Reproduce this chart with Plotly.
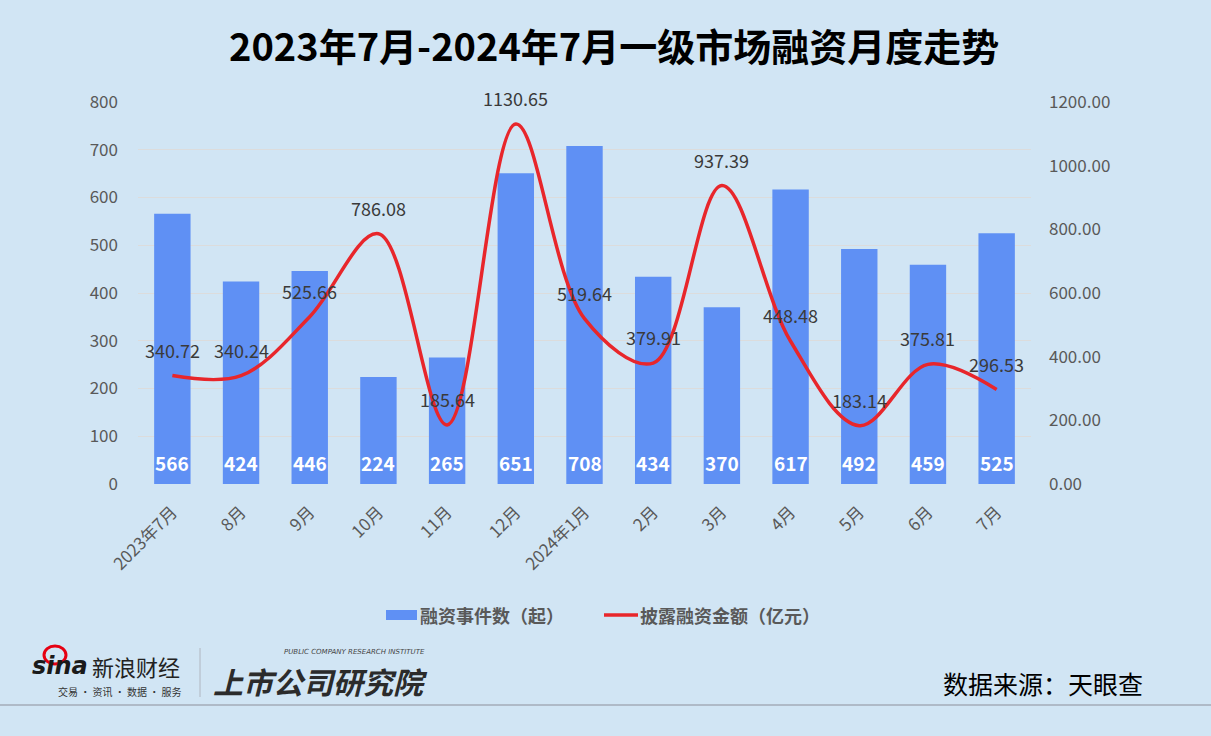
import plotly.graph_objects as go

# ---- data ----
months = ["2023年7月", "8月", "9月", "10月", "11月", "12月", "2024年1月",
          "2月", "3月", "4月", "5月", "6月", "7月"]
deal_counts = [566, 424, 446, 224, 265, 651, 708, 434, 370, 617, 492, 459, 525]
amounts = [340.72, 340.24, 525.66, 786.08, 185.64, 1130.65, 519.64,
           379.91, 937.39, 448.48, 183.14, 375.81, 296.53]
left_ticks = [0, 100, 200, 300, 400, 500, 600, 700, 800]
right_ticks = [0, 200, 400, 600, 800, 1000, 1200]
bar_name = "融资事件数（起）"
line_name = "披露融资金额（亿元）"

W, H = 1211, 736
L, R, T, B = 138, 1031, 102, 484
BG = "#d1e5f4"
FONT = "Noto Sans CJK SC, Noto Sans, sans-serif"
GRAY = "#595959"
BAR_COLOR = "#5f90f4"
LINE_COLOR = "#e8262b"


def px(x):
    return (x - L) / (R - L)


def py(y):
    return (B - y) / (B - T)


fig = go.Figure()
fig.add_trace(go.Bar(
    x=months, y=deal_counts, name=bar_name,
    marker=dict(color=BAR_COLOR, line=dict(width=0)),
    width=0.53, yaxis="y", hoverinfo="skip", showlegend=False,
))
fig.add_trace(go.Scatter(
    x=months, y=amounts, name=line_name, mode="lines",
    line=dict(color=LINE_COLOR, width=3.5, shape="spline", smoothing=1.0),
    yaxis="y2", hoverinfo="skip", showlegend=False,
))

annotations = []
# line value labels
for m, v in zip(months, amounts):
    annotations.append(dict(
        x=m, y=v, xref="x", yref="y2", text=f"{v:.2f}", showarrow=False,
        yshift=26, font=dict(family=FONT, size=18, color="#3a3a3a"),
        xanchor="center", yanchor="middle"))
# bar value labels
for m, v in zip(months, deal_counts):
    annotations.append(dict(
        x=m, y=0, xref="x", yref="y", text=f"<b>{v}</b>", showarrow=False,
        yshift=22, font=dict(family=FONT, size=19, color="white"),
        xanchor="center", yanchor="middle"))

# title
annotations.append(dict(
    x=px(614), y=py(45), xref="paper", yref="paper",
    text="<b>2023年7月-2024年7月一级市场融资月度走势</b>", showarrow=False,
    font=dict(family=FONT, size=38, color="black"),
    xanchor="center", yanchor="middle"))
# legend (manual)
annotations.append(dict(
    x=px(420), y=py(615), xref="paper", yref="paper",
    text=f"<b>{bar_name}</b>", showarrow=False,
    font=dict(family=FONT, size=18, color=GRAY),
    xanchor="left", yanchor="middle", xshift=-2))
annotations.append(dict(
    x=px(640), y=py(615), xref="paper", yref="paper",
    text=f"<b>{line_name}</b>", showarrow=False,
    font=dict(family=FONT, size=18, color=GRAY),
    xanchor="left", yanchor="middle", xshift=-2))
# source
annotations.append(dict(
    x=px(1043), y=py(683), xref="paper", yref="paper",
    text="数据来源：天眼查", showarrow=False,
    font=dict(family=FONT, size=25, color="black"),
    xanchor="center", yanchor="middle"))
# sina logo (text approximation)
annotations.append(dict(
    x=px(60), y=py(666), xref="paper", yref="paper",
    text="<b><i>sina</i></b>", showarrow=False,
    font=dict(family="DejaVu Sans, sans-serif", size=24, color="#1a1a1a"),
    xanchor="center", yanchor="middle"))
annotations.append(dict(
    x=px(136), y=py(666), xref="paper", yref="paper",
    text="新浪财经", showarrow=False,
    font=dict(family=FONT, size=22, color="#222222"),
    xanchor="center", yanchor="middle"))
annotations.append(dict(
    x=px(119), y=py(691), xref="paper", yref="paper",
    text="交易 · 资讯 · 数据 · 服务", showarrow=False,
    font=dict(family=FONT, size=10, color="#333333"),
    xanchor="center", yanchor="middle"))
annotations.append(dict(
    x=px(354), y=py(652), xref="paper", yref="paper",
    text="<i>PUBLIC COMPANY RESEARCH INSTITUTE</i>", showarrow=False,
    font=dict(family="DejaVu Sans, sans-serif", size=7, color="#444444"),
    xanchor="center", yanchor="middle"))
annotations.append(dict(
    x=px(320), y=py(681), xref="paper", yref="paper",
    text="<b><i>上市公司研究院</i></b>", showarrow=False,
    font=dict(family=FONT, size=30, color="#2b2b2b"),
    xanchor="center", yanchor="middle"))

shapes = [
    # legend swatches
    dict(type="rect", xref="paper", yref="paper", x0=px(386), x1=px(417),
         y0=py(620), y1=py(610), fillcolor=BAR_COLOR, line=dict(width=0)),
    dict(type="line", xref="paper", yref="paper", x0=px(604), x1=px(638),
         y0=py(615), y1=py(615), line=dict(color=LINE_COLOR, width=3.5)),
    # footer
    dict(type="line", xref="paper", yref="paper", x0=px(0), x1=px(W),
         y0=py(705), y1=py(705), line=dict(color="#a3abb9", width=1.5)),
    dict(type="line", xref="paper", yref="paper", x0=px(200), x1=px(200),
         y0=py(648), y1=py(697), line=dict(color="#b0b6c0", width=1)),
    dict(type="circle", xref="paper", yref="paper", x0=px(44), x1=px(66),
         y0=py(664), y1=py(646), line=dict(color="#e60012", width=3),
         fillcolor="rgba(0,0,0,0)"),
]

fig.update_layout(
    width=W, height=H,
    margin=dict(l=L, r=W - R, t=T, b=H - B, pad=0),
    paper_bgcolor=BG, plot_bgcolor=BG,
    font=dict(family=FONT, color=GRAY),
    bargap=0.47,
    showlegend=False,
    xaxis=dict(
        type="category", tickangle=-45, showgrid=False, showline=False,
        zeroline=False, ticks="", ticklabelstandoff=14,
        tickfont=dict(family=FONT, size=17, color=GRAY),
    ),
    yaxis=dict(
        range=[0, 800], tickvals=left_ticks, ticktext=[str(t) for t in left_ticks],
        showgrid=True, gridcolor="#dcdcdc", gridwidth=1, zeroline=False,
        showline=False, ticks="", ticklabelstandoff=19,
        tickfont=dict(family=FONT, size=17, color=GRAY),
    ),
    yaxis2=dict(
        range=[0, 1200], overlaying="y", side="right", tickvals=right_ticks,
        ticktext=[f"{t:.2f}" for t in right_ticks], showgrid=False,
        zeroline=False, showline=False, ticks="", ticklabelstandoff=17,
        tickfont=dict(family=FONT, size=17, color=GRAY),
    ),
    annotations=annotations,
    shapes=shapes,
    hovermode=False,
)

fig.write_html(
    "out.html",
    config={"displayModeBar": False},
    post_script="document.body.style.margin='0';document.body.style.background='%s';" % BG,
)
